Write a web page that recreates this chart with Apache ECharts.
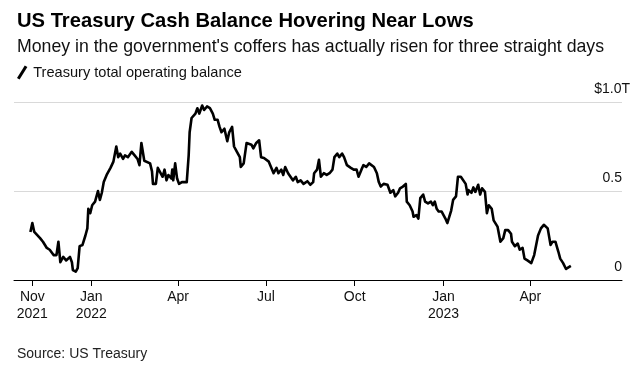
<!DOCTYPE html>
<html>
<head>
<meta charset="utf-8">
<script src="https://cdn.jsdelivr.net/npm/echarts@6/dist/echarts.min.js"></script>
<style>html,body{margin:0;padding:0;background:#fff;}#c{width:644px;height:371px;}</style>
</head>
<body>
<div id="c"></div>
<script>
const dates = [
'2021-10-30','2021-11-01','2021-11-03','2021-11-05','2021-11-09','2021-11-12','2021-11-16','2021-11-19','2021-11-23','2021-11-26',
'2021-11-28','2021-11-30','2021-12-03','2021-12-06','2021-12-10','2021-12-12','2021-12-13','2021-12-16','2021-12-18','2021-12-20',
'2021-12-23','2021-12-26','2021-12-28','2021-12-29','2021-12-31',
'2022-01-02','2022-01-05','2022-01-08','2022-01-10','2022-01-12','2022-01-14','2022-01-17','2022-01-21','2022-01-24','2022-01-27',
'2022-01-29','2022-01-31','2022-02-03','2022-02-05','2022-02-08','2022-02-12','2022-02-15','2022-02-18','2022-02-20','2022-02-22',
'2022-02-25','2022-02-27','2022-03-03','2022-03-05','2022-03-06','2022-03-09','2022-03-11','2022-03-13','2022-03-16','2022-03-18',
'2022-03-20','2022-03-22','2022-03-25','2022-03-26','2022-03-27','2022-03-29','2022-03-31','2022-04-02','2022-04-05','2022-04-07',
'2022-04-10','2022-04-12','2022-04-13','2022-04-15','2022-04-19','2022-04-21','2022-04-23','2022-04-26','2022-04-28','2022-05-01',
'2022-05-04','2022-05-07','2022-05-09','2022-05-12','2022-05-14','2022-05-16','2022-05-19','2022-05-22','2022-05-24','2022-05-27',
'2022-05-29','2022-06-01','2022-06-04','2022-06-05','2022-06-08','2022-06-11','2022-06-13','2022-06-16','2022-06-18','2022-06-21',
'2022-06-22','2022-06-24','2022-06-26','2022-06-29','2022-07-01','2022-07-04','2022-07-06','2022-07-09','2022-07-12','2022-07-14',
'2022-07-17','2022-07-19','2022-07-21','2022-07-24','2022-07-26','2022-07-29','2022-08-01','2022-08-03','2022-08-06','2022-08-09',
'2022-08-11','2022-08-13','2022-08-16','2022-08-19','2022-08-20','2022-08-23','2022-08-25','2022-08-27','2022-08-30','2022-09-02',
'2022-09-05','2022-09-08','2022-09-10','2022-09-13','2022-09-15','2022-09-18','2022-09-20','2022-09-23','2022-09-27','2022-09-30',
'2022-10-03','2022-10-05','2022-10-08','2022-10-10','2022-10-13','2022-10-16','2022-10-18','2022-10-21','2022-10-24','2022-10-26',
'2022-10-28','2022-10-31','2022-11-02','2022-11-04','2022-11-07','2022-11-10','2022-11-12','2022-11-15','2022-11-17','2022-11-20',
'2022-11-23','2022-11-24','2022-11-27','2022-11-30','2022-12-01','2022-12-04','2022-12-06','2022-12-08','2022-12-11','2022-12-13',
'2022-12-16','2022-12-19','2022-12-21','2022-12-23','2022-12-25','2022-12-27','2022-12-30','2023-01-01',
'2023-01-03','2023-01-05','2023-01-07','2023-01-09','2023-01-11','2023-01-14','2023-01-16','2023-01-19','2023-01-21','2023-01-24',
'2023-01-26','2023-01-27','2023-01-30','2023-02-01','2023-02-03','2023-02-06','2023-02-08','2023-02-10','2023-02-13','2023-02-15',
'2023-02-17','2023-02-20','2023-02-22','2023-02-24','2023-02-26','2023-03-01','2023-03-04','2023-03-06','2023-03-09','2023-03-12',
'2023-03-13','2023-03-16','2023-03-19','2023-03-21','2023-03-24','2023-03-26','2023-03-29','2023-03-31','2023-04-02','2023-04-05',
'2023-04-07','2023-04-09','2023-04-12','2023-04-15','2023-04-17','2023-04-19','2023-04-22','2023-04-24','2023-04-27','2023-04-30',
'2023-05-02','2023-05-05','2023-05-08','2023-05-10','2023-05-13'
];
const balance = [
0.27,0.32,0.27,0.275,0.235,0.215,0.18,0.17,0.14,0.14,
0.215,0.10,0.13,0.11,0.13,0.10,0.056,0.047,0.067,0.19,
0.197,0.25,0.29,0.40,0.375,
0.42,0.44,0.50,0.45,0.49,0.55,0.59,0.63,0.665,0.75,
0.69,0.71,0.68,0.70,0.69,0.72,0.70,0.68,0.645,0.77,
0.67,0.68,0.655,0.61,0.54,0.54,0.63,0.63,0.58,0.62,
0.56,0.59,0.57,0.62,0.56,0.655,0.57,0.54,0.55,0.545,
0.55,0.70,0.83,0.91,0.935,0.965,0.935,0.98,0.955,0.975,
0.965,0.935,0.90,0.90,0.86,0.83,0.85,0.78,0.83,0.86,
0.75,0.72,0.69,0.635,0.655,0.77,0.76,0.76,0.74,0.77,
0.77,0.785,0.69,0.685,0.69,0.665,0.655,0.60,0.63,0.60,
0.62,0.59,0.635,0.60,0.60,0.56,0.58,0.55,0.56,0.54,
0.535,0.555,0.535,0.55,0.60,0.62,0.675,0.58,0.60,0.59,
0.60,0.62,0.69,0.71,0.69,0.71,0.69,0.645,0.63,0.62,
0.62,0.58,0.62,0.645,0.635,0.655,0.645,0.635,0.60,0.55,
0.525,0.54,0.55,0.535,0.49,0.505,0.47,0.49,0.515,0.525,
0.54,0.44,0.42,0.385,0.355,0.365,0.345,0.46,0.48,0.44,
0.43,0.44,0.42,0.44,0.40,0.385,0.385,0.39,
0.345,0.32,0.355,0.39,0.45,0.47,0.58,0.58,0.58,0.54,
0.48,0.505,0.49,0.52,0.495,0.535,0.48,0.515,0.495,0.375,
0.42,0.40,0.335,0.345,0.30,0.215,0.235,0.28,0.28,0.26,
0.215,0.19,0.205,0.17,0.18,0.12,0.11,0.12,0.095,0.14,
0.14,0.25,0.29,0.31,0.31,0.29,0.197,0.215,0.215,0.16,
0.12,0.095,0.062,0.066,0.079
];
const xTickDates = ['2021-11-01','2022-01-01','2022-04-01','2022-07-01','2022-10-01','2023-01-01','2023-04-01'];
const xTickLabels = ['Nov\n2021','Jan\n2022','Apr','Jul','Oct','Jan\n2023','Apr'];
const yTicks = [0, 0.5, 1];
const yTickLabels = ['0', '0.5', '$1.0T'];
const xRange = ['2021-10-13', '2023-07-05'];

function ts(s){ const p = s.split('-').map(Number); return Date.UTC(p[0], p[1]-1, p[2]); }
const tickTs = xTickDates.map(ts);
const seriesData = dates.map((d,i) => [ts(d), balance[i]]);
const topTick = yTicks[yTicks.length - 1];

const FONT = "'Liberation Sans', Arial, sans-serif";
const yLabelBase = {inside: true, verticalAlign: 'bottom', padding: [0, 0, 6, 0], fontFamily: FONT, fontSize: 14, color: '#111'};
const chart = echarts.init(document.getElementById('c'), null, {renderer:'canvas'});
chart.setOption({
  animation: false,
  backgroundColor: '#fff',
  textStyle: {fontFamily: FONT},
  title: [
    {text: 'US Treasury Cash Balance Hovering Near Lows', left: 12, top: 6,
     textStyle: {fontFamily: FONT, fontSize: 20.2, fontWeight: 'bold', color: '#000'}},
    {text: "Money in the government's coffers has actually risen for three straight days", left: 12, top: 33,
     textStyle: {fontFamily: FONT, fontSize: 17.7, fontWeight: 'normal', color: '#111'}},
    {text: 'Source: US Treasury', left: 12, top: 342,
     textStyle: {fontFamily: FONT, fontSize: 14, fontWeight: 'normal', color: '#222'}}
  ],
  legend: {
    left: 12, top: 60, itemWidth: 12, itemHeight: 14, itemGap: 10,
    icon: 'path://M0,12 L7.5,0 L10,1.5 L2.5,13.5 Z',
    textStyle: {fontFamily: FONT, fontSize: 14.6, color: '#111'},
    data: [{name: 'Treasury total operating balance', itemStyle: {color: '#000'}}]
  },
  grid: {left: 14, right: 22, top: 102, bottom: 91, containLabel: false},
  xAxis: {
    type: 'value', min: ts(xRange[0]), max: ts(xRange[1]), z: 5,
    axisLine: {show: true, lineStyle: {color: '#000', width: 1}},
    axisTick: {show: true, length: 6, lineStyle: {color: '#000'}, customValues: tickTs},
    splitLine: {show: false},
    axisLabel: {
      customValues: tickTs, margin: 9, fontFamily: FONT, fontSize: 14, lineHeight: 17, color: '#111',
      formatter: function(v){ const i = tickTs.indexOf(v); return i >= 0 ? xTickLabels[i] : ''; }
    }
  },
  yAxis: [{
    type: 'value', position: 'right', min: 0, max: 1, interval: 0.5,
    axisLine: {show: false}, axisTick: {show: false},
    splitLine: {show: true, lineStyle: {color: '#d9d9d9', width: 1}},
    axisLabel: Object.assign({}, yLabelBase, {margin: 0,
      formatter: function(v){ const i = yTicks.indexOf(v); return (i >= 0 && v !== topTick) ? yTickLabels[i] : ''; }})
  }, {
    type: 'value', position: 'right', min: 0, max: 1, interval: 0.5,
    axisLine: {show: false}, axisTick: {show: false}, splitLine: {show: false},
    axisLabel: Object.assign({}, yLabelBase, {margin: -8,
      formatter: function(v){ return v === topTick ? yTickLabels[yTicks.indexOf(v)] : ''; }})
  }],
  series: [{
    name: 'Treasury total operating balance', type: 'line', data: seriesData, yAxisIndex: 0,
    showSymbol: false, symbol: 'none', smooth: false,
    lineStyle: {color: '#000', width: 2.6, join: 'round'},
    itemStyle: {color: '#000'}
  }]
});
</script>
</body>
</html>
